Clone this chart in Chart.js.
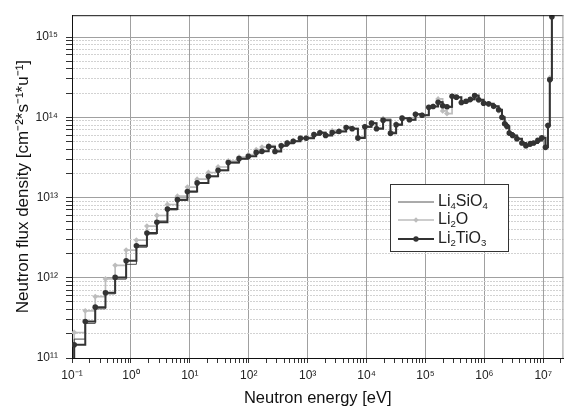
<!DOCTYPE html>
<html>
<head>
<meta charset="utf-8">
<script src="https://cdn.jsdelivr.net/npm/chart.js@4/dist/chart.umd.min.js"></script>
<style>
  html, body { margin: 0; padding: 0; background: #fff; }
</style>
</head>
<body>
<canvas id="chart" width="566" height="412"></canvas>
<script>
// Neutron flux spectra for three breeder materials (step histogram, log-log).

// bin lower edges in eV (first/last entries only lead the steps in/out of the plot)
const energy = [
  0.06, 0.109, 0.168, 0.248, 0.37, 0.54, 0.83, 1.24, 1.87, 2.76,
  4.17, 6.16, 9.1, 13.3, 20.7, 30.2, 45, 68.5, 98.5, 134,
  168, 218, 279, 356, 450, 570, 755, 946, 1280, 1615,
  2020, 2610, 3400, 4510, 5700, 7130, 9360, 12160, 14770, 19100,
  25500, 31800, 40100, 53500, 67700, 87600, 1.14e5, 1.35e5, 1.64e5, 1.96e5,
  2.32e5, 2.83e5, 3.35e5, 4.07e5, 4.88e5, 5.79e5, 6.85e5, 8.0e5, 9.7e5, 1.18e6,
  1.44e6, 1.75e6, 1.99e6, 2.21e6, 2.42e6, 2.65e6, 3.02e6, 3.57e6, 4.34e6, 5.07e6,
  6.03e6, 6.85e6, 8.1e6, 9.46e6, 1.09e7, 1.2e7, 1.29e7, 1.4e7, 1.4e7
];

const fluxLi4SiO4 = [
  5e10, 1.72e11, 2.7e11, 4.1e11, 6.3e11, 9.6e11, 1.47e12, 2.4e12, 3.5e12, 5.1e12,
  7.0e12, 9.2e12, 1.17e13, 1.5e13, 1.82e13, 2.16e13, 2.7e13, 3.03e13, 3.25e13, 3.63e13,
  3.75e13, 4.28e13, 3.8e13, 4.38e13, 4.75e13, 5.0e13, 5.45e13, 5.5e13, 6.05e13, 6.4e13,
  6.0e13, 6.45e13, 6.65e13, 7.4e13, 7.2e13, 5.6e13, 7.55e13, 8.4e13, 7.25e13, 9.1e13,
  6.4e13, 8.0e13, 9.7e13, 9.3e13, 1.08e14, 1.06e14, 1.32e14, 1.36e14, 1.56e14, 1.37e14,
  1.33e14, 1.82e14, 1.77e14, 1.53e14, 1.58e14, 1.67e14, 1.86e14, 1.64e14, 1.5e14, 1.46e14,
  1.37e14, 1.23e14, 1.0e14, 8.3e13, 7.7e13, 6.35e13, 5.9e13, 5.4e13, 4.75e13, 4.45e13,
  4.7e13, 4.75e13, 5.15e13, 5.55e13, 4.25e13, 8.0e13, 3.0e14, 1.79e15, 1e16
];

const fluxLi2O = [
  5e10, 2.08e11, 3.87e11, 5.82e11, 9.66e11, 1.43e12, 2.21e12, 2.95e12, 4.4e12, 5.97e12,
  8.18e12, 1.04e13, 1.35e13, 1.69e13, 2.05e13, 2.4e13, 2.85e13, 3.19e13, 3.42e13, 3.95e13,
  4.25e13, 4.45e13, 3.95e13, 4.5e13, 4.85e13, 5.1e13, 5.55e13, 5.6e13, 6.15e13, 6.5e13,
  6.1e13, 6.8e13, 6.8e13, 7.5e13, 7.3e13, 5.7e13, 7.7e13, 8.5e13, 7.4e13, 9.6e13,
  6.6e13, 8.3e13, 9.8e13, 9.4e13, 1.1e14, 1.07e14, 1.33e14, 1.38e14, 1.69e14, 1.2e14,
  1.11e14, 1.8e14, 1.76e14, 1.52e14, 1.57e14, 1.66e14, 1.85e14, 1.63e14, 1.48e14, 1.45e14,
  1.35e14, 1.2e14, 9.8e13, 8.2e13, 7.6e13, 6.3e13, 5.9e13, 5.35e13, 4.75e13, 4.4e13,
  4.65e13, 4.75e13, 5.1e13, 5.5e13, 4.3e13, 8.1e13, 3.1e14, 1.79e15, 1e16
];

const fluxLi2TiO3 = [
  5e10, 1.46e11, 2.85e11, 4.3e11, 6.5e11, 1.01e12, 1.63e12, 2.5e12, 3.6e12, 4.9e12,
  7.2e12, 9.4e12, 1.19e13, 1.52e13, 1.84e13, 2.18e13, 2.73e13, 3.05e13, 3.26e13, 3.65e13,
  3.76e13, 4.3e13, 3.74e13, 4.4e13, 4.76e13, 5.03e13, 5.48e13, 5.48e13, 6.07e13, 6.42e13,
  5.94e13, 6.47e13, 6.66e13, 7.47e13, 7.2e13, 5.5e13, 7.6e13, 8.45e13, 7.2e13, 9.2e13,
  6.3e13, 8.07e13, 9.75e13, 9.3e13, 1.09e14, 1.06e14, 1.33e14, 1.36e14, 1.54e14, 1.39e14,
  1.35e14, 1.83e14, 1.78e14, 1.53e14, 1.58e14, 1.68e14, 1.87e14, 1.65e14, 1.5e14, 1.47e14,
  1.37e14, 1.24e14, 1.0e14, 8.3e13, 7.7e13, 6.35e13, 5.94e13, 5.4e13, 4.77e13, 4.43e13,
  4.69e13, 4.77e13, 5.15e13, 5.56e13, 4.22e13, 7.9e13, 2.93e14, 1.79e15, 1e16
];

// decade exponents that get a "10^n" label
const xDecades = [-1, 0, 1, 2, 3, 4, 5, 6, 7];
const yDecades = [11, 12, 13, 14, 15];

// legend text split into [text, isSubscript] runs
const legendNames = [
  [['Li', 0], ['4', 1], ['SiO', 0], ['4', 1]],
  [['Li', 0], ['2', 1], ['O', 0]],
  [['Li', 0], ['2', 1], ['TiO', 0], ['3', 1]]
];

const X_MIN = 0.1, X_MAX = 2.2e7;
const Y_MIN = 1e11, Y_MAX = 1.87e15;

const FONT = '"Liberation Sans", Arial, Helvetica, sans-serif';
const TICK_FONT = '"Liberation Sans Narrow", "Arial Narrow", "Liberation Sans", Arial, sans-serif';

const SUP = { '-': '\u207B', '0': '\u2070', '1': '\u00B9', '2': '\u00B2', '3': '\u00B3',
  '4': '\u2074', '5': '\u2075', '6': '\u2076', '7': '\u2077', '8': '\u2078', '9': '\u2079' };

function pow10Label(e) {
  return '10' + String(e).split('').map(c => SUP[c]).join('');
}

function isDecade(v) {
  const l = Math.log10(v);
  return Math.abs(l - Math.round(l)) < 1e-6;
}

// 1..9 x 10^e for every decade, capped at maxVal
function logTicks(decades, maxVal) {
  const out = [];
  decades.forEach(e => {
    for (let m = 1; m <= 9; m++) {
      const v = m * Math.pow(10, e);
      if (v <= maxVal * 1.0001) out.push({ value: v });
    }
  });
  return out;
}

function series(ys) {
  return energy.map((e, i) => ({ x: e, y: ys[i] }));
}

const lastIdx = energy.length - 1;
const hideEnds = ctx => (ctx.dataIndex === 0 || ctx.dataIndex >= lastIdx) ? 0 : undefined;

function drawRich(ctx, parts, x, y, size) {
  parts.forEach(([txt, sub]) => {
    const s = sub ? size * 0.6 : size;
    ctx.font = s + 'px ' + FONT;
    ctx.fillText(txt, x, y + (sub ? size * 0.3 : 0));
    x += ctx.measureText(txt).width;
  });
}

const frameAndLegend = {
  id: 'frameAndLegend',
  afterDraw(chart) {
    const { ctx, chartArea: a } = chart;
    ctx.save();
    // top and right frame
    ctx.lineWidth = 1;
    ctx.strokeStyle = '#111';
    ctx.beginPath();
    ctx.moveTo(a.left, a.top + 0.5);
    ctx.lineTo(a.right, a.top + 0.5);
    ctx.stroke();
    ctx.strokeStyle = '#999';
    ctx.beginPath();
    ctx.moveTo(a.right - 0.5, a.top);
    ctx.lineTo(a.right - 0.5, a.bottom);
    ctx.stroke();

    // legend box
    const bx = 390.5, by = 184.5, bw = 118, bh = 67;
    ctx.fillStyle = '#fff';
    ctx.fillRect(bx, by, bw, bh);
    ctx.strokeStyle = '#333';
    ctx.strokeRect(bx, by, bw, bh);

    const rows = [202, 220, 239];
    const styles = [
      { color: '#444', width: 0.9, point: null },
      { color: '#bdbdbd', width: 1.6, point: 'rectRot' },
      { color: '#333', width: 2, point: 'circle' }
    ];
    rows.forEach((ry, i) => {
      const st = styles[i];
      ctx.strokeStyle = st.color;
      ctx.lineWidth = st.width;
      ctx.beginPath();
      ctx.moveTo(398, ry);
      ctx.lineTo(434, ry);
      ctx.stroke();
      if (st.point) {
        ctx.fillStyle = st.color;
        Chart.helpers.drawPoint(ctx, { pointStyle: st.point, radius: 2.7, borderWidth: 0 }, 416, ry);
      }
      ctx.fillStyle = '#222';
      ctx.textBaseline = 'middle';
      drawRich(ctx, legendNames[i], 438, ry, 16);
    });
    ctx.restore();
  }
};

new Chart(document.getElementById('chart'), {
  type: 'line',
  data: {
    datasets: [
      {
        label: 'Li\u2084SiO\u2084',
        data: series(fluxLi4SiO4),
        stepped: 'before',
        borderColor: '#3a3a3a',
        borderWidth: 0.9,
        pointRadius: 0,
        order: 1
      },
      {
        label: 'Li\u2082O',
        data: series(fluxLi2O),
        stepped: 'before',
        borderColor: '#bdbdbd',
        borderWidth: 1.7,
        pointStyle: 'rectRot',
        pointRadius: ctx => hideEnds(ctx) ?? 2.9,
        pointBackgroundColor: '#bdbdbd',
        pointBorderWidth: 0,
        order: 2
      },
      {
        label: 'Li\u2082TiO\u2083',
        data: series(fluxLi2TiO3),
        stepped: 'before',
        borderColor: '#333',
        borderWidth: 2,
        pointStyle: 'circle',
        pointRadius: ctx => hideEnds(ctx) ?? 2.8,
        pointBackgroundColor: '#333',
        pointBorderWidth: 0,
        order: 0
      }
    ]
  },
  options: {
    responsive: false,
    animation: false,
    events: [],
    layout: { padding: { top: 14, right: 1, left: 0, bottom: 0 } },
    plugins: {
      legend: { display: false },
      tooltip: { enabled: false }
    },
    scales: {
      x: {
        type: 'logarithmic',
        min: X_MIN,
        max: X_MAX,
        afterBuildTicks: s => { s.ticks = logTicks(xDecades, X_MAX); },
        afterFit: s => { s.height = 54; },
        ticks: {
          autoSkip: false,
          maxRotation: 0,
          padding: 5,
          color: '#222',
          font: { size: 12, family: TICK_FONT },
          callback: v => isDecade(v) ? pow10Label(Math.round(Math.log10(v))) : ''
        },
        grid: {
          color: ctx => (ctx.tick && isDecade(ctx.tick.value)) ? '#a0a0a0' : 'rgba(0,0,0,0)',
          tickColor: '#333',
          tickLength: 5,
          lineWidth: 1
        },
        border: { color: '#111', width: 1 },
        title: {
          display: true,
          text: 'Neutron energy [eV]',
          color: '#111',
          font: { size: 16.5, family: FONT },
          padding: { top: 0, bottom: 4 }
        }
      },
      y: {
        type: 'logarithmic',
        min: Y_MIN,
        max: Y_MAX,
        afterBuildTicks: s => { s.ticks = logTicks(yDecades, Y_MAX); },
        afterFit: s => { s.width = 72; },
        ticks: {
          autoSkip: false,
          padding: 8,
          color: '#222',
          font: { size: 12, family: TICK_FONT },
          callback: v => isDecade(v) ? pow10Label(Math.round(Math.log10(v))) : ''
        },
        grid: {
          color: ctx => (ctx.tick && isDecade(ctx.tick.value)) ? '#a0a0a0' : '#d2d2d2',
          tickColor: '#333',
          tickLength: 6,
          lineWidth: 1
        },
        border: {
          color: '#111',
          width: 1,
          dash: ctx => (ctx.tick && !isDecade(ctx.tick.value)) ? [2, 1] : []
        },
        title: {
          display: true,
          text: 'Neutron flux density [cm\u207B\u00B2*s\u207B\u00B9*u\u207B\u00B9]',
          color: '#111',
          font: { size: 17, family: FONT },
          padding: { top: 13, bottom: 0 }
        }
      }
    }
  },
  plugins: [frameAndLegend]
});
</script>
</body>
</html>
